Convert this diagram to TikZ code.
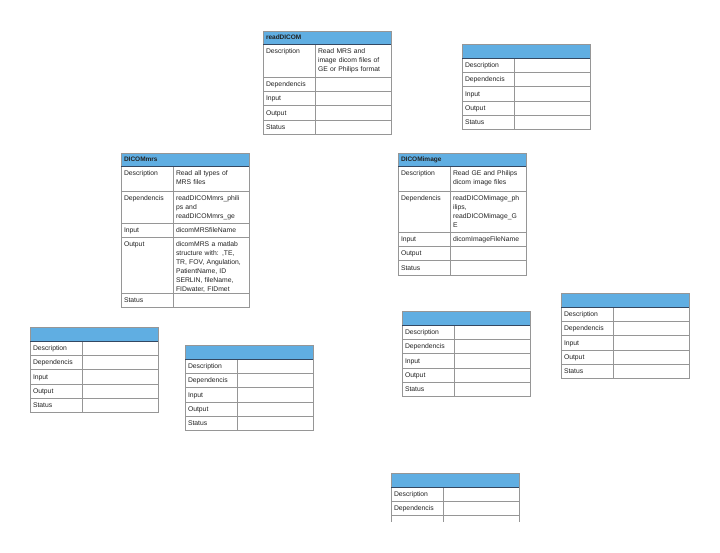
\documentclass[tikz,border=0pt]{standalone}
\usepackage{fontspec}
\setmainfont{Liberation Sans}
\usepackage{xcolor}
\usetikzlibrary{positioning}

\definecolor{hdblue}{RGB}{96,174,226}
\definecolor{hdline}{RGB}{52,72,98}
\definecolor{gridc}{RGB}{150,150,150}
\definecolor{txt}{RGB}{34,34,34}

\begin{document}
\begin{tikzpicture}[
    x=1pt, y=-1pt,
    every node/.style={font=\fontsize{6.8}{9}\selectfont, text=txt},
    cell/.style={draw=gridc, line width=0.7pt, inner xsep=3pt, inner ysep=0pt, outer sep=0pt, align=left, text height=9.6pt, text depth=4.7pt},
    lab/.style={cell, text width=46pt},
    val/.style={cell, text width=70pt},
    rowh/.style={text depth=#1pt-9.6pt},
    hdr/.style={cell, fill=hdblue, text width=122pt, text height=8.6pt, text depth=4.4pt, font=\bfseries\fontsize{6.5}{8}\selectfont},
    ehdr/.style={hdr, text depth=5.4pt},
    hline/.style={draw=hdline, line width=0.9pt}
  ]
    \useasboundingbox (0,0) rectangle (720,552);
    \clip (0,0) rectangle (720,521);

    % readDICOM
    \node[hdr, anchor=north west] (rd-h) at (263,31) {readDICOM};
    \node[lab, rowh=33, below=0pt of rd-h.south west, anchor=north west] (rd-1) {Description};
    \node[lab, below=0pt of rd-1] (rd-2) {Dependencis};
    \node[lab, below=0pt of rd-2] (rd-3) {Input};
    \node[lab, below=0pt of rd-3] (rd-4) {Output};
    \node[lab, below=0pt of rd-4] (rd-5) {Status};
    \node[val, rowh=33, right=0pt of rd-1] (rd-1v) {Read MRS and\\image dicom files of\\GE or Philips format};
    \node[val, right=0pt of rd-2] (rd-2v) {};
    \node[val, right=0pt of rd-3] (rd-3v) {};
    \node[val, right=0pt of rd-4] (rd-4v) {};
    \node[val, right=0pt of rd-5] (rd-5v) {};
    \draw[hline] (rd-h.south west) -- (rd-h.south east);

    % DICOMmrs
    \node[hdr, anchor=north west] (mrs-h) at (121,153) {DICOMmrs};
    \node[lab, rowh=25, below=0pt of mrs-h.south west, anchor=north west] (mrs-1) {Description};
    \node[lab, rowh=32, below=0pt of mrs-1] (mrs-2) {Dependencis};
    \node[lab, below=0pt of mrs-2] (mrs-3) {Input};
    \node[lab, rowh=56, below=0pt of mrs-3] (mrs-4) {Output};
    \node[lab, below=0pt of mrs-4] (mrs-5) {Status};
    \node[val, rowh=25, right=0pt of mrs-1] (mrs-1v) {Read all types of\\MRS files};
    \node[val, rowh=32, right=0pt of mrs-2] (mrs-2v) {readDICOMmrs\_phili\\ps and\\readDICOMmrs\_ge};
    \node[val, right=0pt of mrs-3] (mrs-3v) {dicomMRSfileName};
    \node[val, rowh=56, right=0pt of mrs-4] (mrs-4v) {dicomMRS a matlab\\structure with: ,TE,\\TR, FOV, Angulation,\\PatientName, ID\\SERLIN, fileName,\\FIDwater, FIDmet};
    \node[val, right=0pt of mrs-5] (mrs-5v) {};
    \draw[hline] (mrs-h.south west) -- (mrs-h.south east);

    % DICOMimage
    \node[hdr, anchor=north west] (img-h) at (398,153) {DICOMimage};
    \node[lab, rowh=25, below=0pt of img-h.south west, anchor=north west] (img-1) {Description};
    \node[lab, rowh=41, below=0pt of img-1] (img-2) {Dependencis};
    \node[lab, below=0pt of img-2] (img-3) {Input};
    \node[lab, below=0pt of img-3] (img-4) {Output};
    \node[lab, below=0pt of img-4] (img-5) {Status};
    \node[val, rowh=25, right=0pt of img-1] (img-1v) {Read GE and Philips\\dicom image files};
    \node[val, rowh=41, right=0pt of img-2] (img-2v) {readDICOMimage\_ph\\ilips,\\readDICOMimage\_G\\E};
    \node[val, right=0pt of img-3] (img-3v) {dicomImageFileName};
    \node[val, right=0pt of img-4] (img-4v) {};
    \node[val, right=0pt of img-5] (img-5v) {};
    \draw[hline] (img-h.south west) -- (img-h.south east);

    % empty templates
    \foreach \t/\px/\py in {ea/462/44, eb/30/327, ec/185/345, ed/402/311, ee/561/293} {
      \node[ehdr, anchor=north west] (\t-h) at (\px,\py) {};
      \node[lab, below=0pt of \t-h.south west, anchor=north west] (\t-1) {Description};
      \node[lab, below=0pt of \t-1] (\t-2) {Dependencis};
      \node[lab, below=0pt of \t-2] (\t-3) {Input};
      \node[lab, below=0pt of \t-3] (\t-4) {Output};
      \node[lab, below=0pt of \t-4] (\t-5) {Status};
      \foreach \r in {1,...,5} \node[val, right=0pt of \t-\r] (\t-\r v) {};
      \draw[hline] (\t-h.south west) -- (\t-h.south east);
    }

    % last template, cut at the page edge
    \node[ehdr, anchor=north west] (ef-h) at (391,473) {};
    \node[lab, below=0pt of ef-h.south west, anchor=north west] (ef-1) {Description};
    \node[lab, below=0pt of ef-1] (ef-2) {Dependencis};
    \node[lab, below=0pt of ef-2] (ef-3) {};
    \foreach \r in {1,2,3} \node[val, right=0pt of ef-\r] (ef-\r v) {};
    \draw[hline] (ef-h.south west) -- (ef-h.south east);
  \end{tikzpicture}
\end{document}
